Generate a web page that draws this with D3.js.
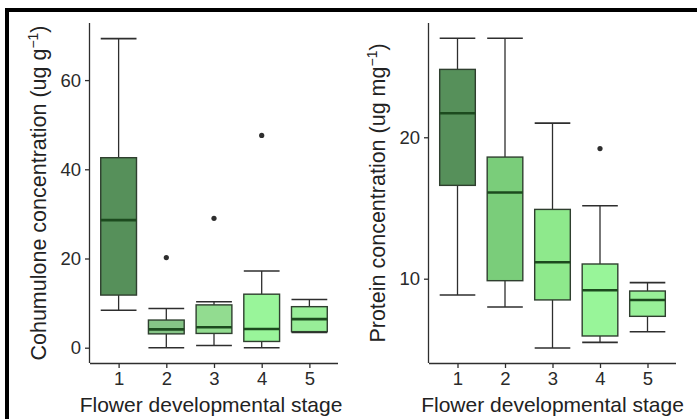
<!DOCTYPE html>
<html>
    <head>
        <title>Flower developmental stage boxplots</title>
        <meta charset="utf-8">
        <script src="https://d3js.org/d3.v7.min.js"></script>
        <style>
            body { margin: 0; background: #fff; }
            text { font-family: "Liberation Sans", Arial, sans-serif; }
        </style>
    </head>
    <body>
        <div id="container"></div>
        <script>
            // Data
            const stages = [1, 2, 3, 4, 5]

            // Cohumulone (ug g-1)
            const cohLow = [8.4, 0.0, 0.5, 0.0, 3.4]
            const cohQ1 = [11.8, 3.1, 3.2, 1.4, 3.6]
            const cohMed = [28.6, 4.1, 4.6, 4.2, 6.4]
            const cohQ3 = [42.6, 6.2, 9.6, 12.0, 9.2]
            const cohHigh = [69.3, 8.8, 10.3, 17.2, 10.8]
            const cohOut = [[], [20.2], [29.0], [47.6], []]
            const cohTicks = [0, 20, 40, 60]

            // Protein (ug mg-1)
            const protLow = [8.85, 8.0, 5.1, 5.5, 6.25]
            const protQ1 = [16.6, 9.86, 8.5, 5.95, 7.34]
            const protMed = [21.7, 16.1, 11.16, 9.18, 8.49]
            const protQ3 = [24.8, 18.6, 14.9, 11.04, 9.13]
            const protHigh = [27.0, 27.0, 21.0, 15.16, 9.72]
            const protOut = [[], [], [], [19.2], []]
            const protTicks = [10, 20]

            const cohFill = ["#56905a", "#85c486", "#92dc90", "#99f59a", "#98ee98"]
            const protFill = ["#56905a", "#7acd7a", "#8ee98c", "#98f599", "#98f098"]

            const w = 697
            const h = 419
            const ink = "#2e2e2e"

            const svg = d3.select("#container")
                .append("svg")
                .attr("width", w)
                .attr("height", h)

            // Frame (top and left edge only, rest is cropped)
            svg.append("rect").attr("x", 5).attr("y", 8).attr("width", w - 5).attr("height", 4).attr("fill", "#000")
            svg.append("rect").attr("x", 5).attr("y", 8).attr("width", 4).attr("height", h - 8).attr("fill", "#000")

            // One panel
            const drawPanel = (p) => {
                const xScale = d3.scaleLinear().domain([0.4, 5.6]).range([p.left, p.right])
                const yScale = d3.scaleLinear().domain(p.domain).range([363, 23])
                const bw = (xScale(2) - xScale(1)) * 0.75

                const g = svg.append("g")

                const rows = stages.map((s, i) => ({
                    s: s, low: p.low[i], q1: p.q1[i], med: p.med[i], q3: p.q3[i], high: p.high[i],
                    out: p.out[i], fill: p.fill[i]
                }))

                const box = g.selectAll(".box").data(rows).enter().append("g").attr("class", "box")

                // whiskers
                box.append("line")
                    .attr("x1", d => xScale(d.s)).attr("x2", d => xScale(d.s))
                    .attr("y1", d => yScale(d.high)).attr("y2", d => yScale(d.q3))
                    .attr("stroke", ink).attr("stroke-width", 1.3)
                box.append("line")
                    .attr("x1", d => xScale(d.s)).attr("x2", d => xScale(d.s))
                    .attr("y1", d => yScale(d.q1)).attr("y2", d => yScale(d.low))
                    .attr("stroke", ink).attr("stroke-width", 1.3)
                // caps
                box.append("line")
                    .attr("x1", d => xScale(d.s) - bw / 2).attr("x2", d => xScale(d.s) + bw / 2)
                    .attr("y1", d => yScale(d.high)).attr("y2", d => yScale(d.high))
                    .attr("stroke", ink).attr("stroke-width", 1.6)
                box.append("line")
                    .attr("x1", d => xScale(d.s) - bw / 2).attr("x2", d => xScale(d.s) + bw / 2)
                    .attr("y1", d => yScale(d.low)).attr("y2", d => yScale(d.low))
                    .attr("stroke", ink).attr("stroke-width", 1.6)
                // box
                box.append("rect")
                    .attr("x", d => xScale(d.s) - bw / 2)
                    .attr("y", d => yScale(d.q3))
                    .attr("width", bw)
                    .attr("height", d => yScale(d.q1) - yScale(d.q3))
                    .attr("fill", d => d.fill)
                    .attr("stroke", "#2f3f2f")
                    .attr("stroke-width", 1.4)
                // median
                box.append("line")
                    .attr("x1", d => xScale(d.s) - bw / 2).attr("x2", d => xScale(d.s) + bw / 2)
                    .attr("y1", d => yScale(d.med)).attr("y2", d => yScale(d.med))
                    .attr("stroke", "#1c4a1e").attr("stroke-width", 2.6)
                // outliers
                box.selectAll("circle").data(d => d.out.map(v => ({ s: d.s, v: v }))).enter()
                    .append("circle")
                    .attr("cx", d => xScale(d.s))
                    .attr("cy", d => yScale(d.v))
                    .attr("r", 2.6)
                    .attr("fill", ink)

                // Axis
                const xAxis = d3.axisBottom(xScale).tickValues(stages).tickSize(5).tickPadding(4).tickFormat(d3.format("d"))
                const yAxis = d3.axisLeft(yScale).tickValues(p.ticks).tickSize(5).tickPadding(4)

                const gx = g.append("g").attr("transform", "translate(0,363)").call(xAxis)
                const gy = g.append("g").attr("transform", "translate(" + p.left + ",0)").call(yAxis)
                for (const a of [gx, gy]) {
                    a.select(".domain").attr("stroke", ink).attr("stroke-width", 1.3)
                    a.selectAll(".tick line").attr("stroke", ink).attr("stroke-width", 1.3)
                    a.selectAll(".tick text").attr("fill", "#2a2a2a").style("font-size", "18.5px")
                }
                gx.select(".domain").attr("d", "M" + p.left + ",0.5H" + p.right)
                gy.select(".domain").attr("d", "M-0.5,363V23")

                // Axis titles
                g.append("text")
                    .attr("x", xScale(3) + p.xtOff)
                    .attr("y", 412)
                    .attr("text-anchor", "middle")
                    .attr("fill", "#222")
                    .style("font-size", "21px")
                    .text("Flower developmental stage")

                const yt = g.append("text")
                    .attr("text-anchor", "middle")
                    .attr("transform", "translate(" + (p.left - 44) + ",193)rotate(-90)")
                    .attr("fill", "#222")
                    .style("font-size", "21.5px")
                yt.append("tspan").text(p.title)
                yt.append("tspan").attr("dy", -8).style("font-size", "14px").text("\u22121")
                yt.append("tspan").attr("dy", 8).text(")")
            }

            drawPanel({
                left: 90, right: 338, domain: [-3.43, 72.8], ticks: cohTicks, xtOff: -3,
                low: cohLow, q1: cohQ1, med: cohMed, q3: cohQ3, high: cohHigh, out: cohOut, fill: cohFill,
                title: "Cohumulone concentration (ug g"
            })
            drawPanel({
                left: 429, right: 676, domain: [4.04, 28.08], ticks: protTicks, xtOff: 0,
                low: protLow, q1: protQ1, med: protMed, q3: protQ3, high: protHigh, out: protOut, fill: protFill,
                title: "Protein concentration (ug mg"
            })
        </script>
    </body>
</html>
